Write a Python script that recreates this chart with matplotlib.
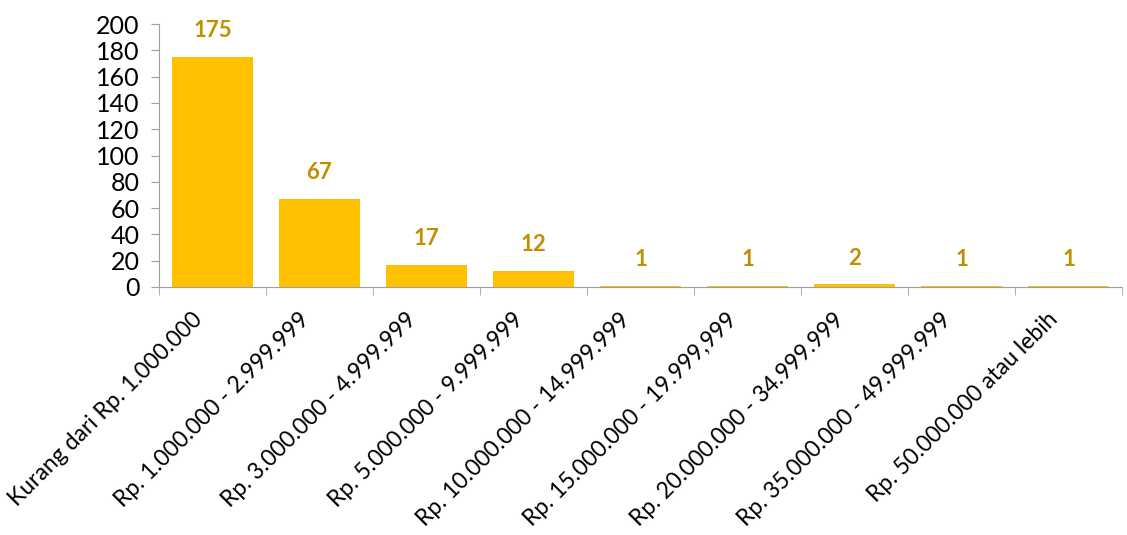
import matplotlib.pyplot as plt
import matplotlib.transforms as mtransforms
import numpy as np

categories = ['Kurang dari Rp. 1.000.000', 'Rp. 1.000.000 - 2.999.999',
              'Rp. 3.000.000 - 4.999.999', 'Rp. 5.000.000 - 9.999.999',
              'Rp. 10.000.000 - 14.999.999', 'Rp. 15.000.000 - 19.999,999',
              'Rp. 20.000.000 - 34.999.999', 'Rp. 35.000.000 - 49.999.999',
              'Rp. 50.000.000 atau lebih']
counts = [175, 67, 17, 12, 1, 1, 2, 1, 1]
yticks = [0, 20, 40, 60, 80, 100, 120, 140, 160, 180, 200]

plt.rcParams['font.family'] = ['Lato', 'DejaVu Sans']

fig = plt.figure(figsize=(11.27, 5.35), dpi=100)
ax = fig.add_axes([0.141, 0.4636, 0.8546, 0.4914])

x = np.arange(len(categories))
ax.bar(x, counts, width=0.75, color='#FFC000', zorder=2)
for xi, v in zip(x, counts):
    ax.text(xi, v + 12, str(v), ha='center', va='bottom', fontsize=16,
            fontweight='bold', color='#BF9000')

ax.set_xlim(-0.5, len(categories) - 0.5)
ax.set_ylim(0, 200)
ax.set_yticks(yticks)
ax.tick_params(axis='y', labelsize=18, length=6, color='#A0A0A0', pad=8)

ax.set_xticks(x)
ax.set_xticklabels(categories, rotation=45, ha='right', va='center',
                   rotation_mode='anchor', fontsize=16.5)
ax.tick_params(axis='x', which='major', length=0, pad=0)
# shift the slanted labels down-left so they hang below each category
shift = mtransforms.ScaledTranslation(-10 / 72, -21 / 72, fig.dpi_scale_trans)
for lbl in ax.get_xticklabels():
    lbl.set_transform(lbl.get_transform() + shift)
ax.set_xticks(np.arange(-0.5, len(categories), 1.0), minor=True)
ax.tick_params(axis='x', which='minor', length=6, color='#A0A0A0')

for side in ['top', 'right']:
    ax.spines[side].set_visible(False)
for side in ['left', 'bottom']:
    ax.spines[side].set_color('#A0A0A0')

fig.savefig('out.png', dpi=100)
